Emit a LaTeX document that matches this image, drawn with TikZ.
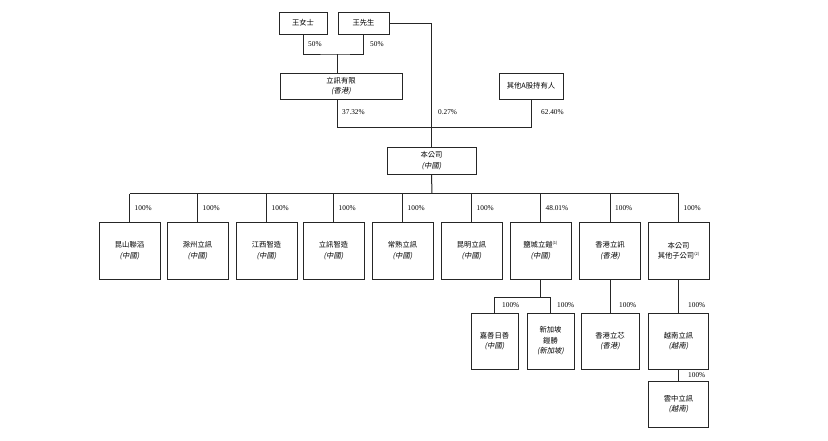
\documentclass[tikz,border=0pt]{standalone}
\usepackage{fontspec}
\setmainfont{Liberation Serif}
\newfontfamily\cjk{Noto Sans CJK TC}
\newfontfamily\cjkit{Noto Sans CJK TC}[FakeSlant=0.2]
\newcommand{\reg}[1]{{\cjkit (#1)}}
\newcommand{\nt}[1]{\raisebox{0.7ex}{\fontsize{4}{4}\selectfont(#1)}}
\begin{document}
\begin{tikzpicture}[x=1pt,y=-1pt,
  box/.style={draw=black!85, line width=1pt, fill=white, align=center, inner sep=0pt,
    font=\cjk\fontsize{7.3}{10.5}\selectfont},
  ln/.style={draw=black!85, line width=1pt},
  pct/.style={font=\fontsize{7.3}{8}\selectfont, anchor=west, inner sep=0pt}]
\useasboundingbox[fill=white] (0,0) rectangle (828,440);

% top level
\node[box, minimum width=48, minimum height=22] (ms) at (303,23) {王女士};
\node[box, minimum width=51, minimum height=22] (mr) at (363.5,23) {王先生};
\node[box, minimum width=122, minimum height=26] (lx) at (341,86) {立訊有限\\\reg{香港}};
\node[box, minimum width=64, minimum height=26] (oth) at (531,86) {其他A股持有人};
\node[box, minimum width=89, minimum height=27] (co) at (431.5,160.5) {本公司\\\reg{中國}};

\coordinate (j1) at (337,54);
\coordinate (bus1) at (432,127.5);
\coordinate (bus2) at (432,193.5);
\coordinate (bus3) at (522,297.5);

\draw[ln] (ms.south) |- (j1) -| (mr.south);
\draw[ln] (j1) -- (j1 |- lx.north);
\draw[ln] (lx.south -| j1) |- (bus1) -| (oth.south);
\draw[ln] (mr.east) -| (co.north);
\draw[ln] (co.south) -- (bus2);

\node[pct] at (308,44) {50\%};
\node[pct] at (370,44) {50\%};
\node[pct] at (342,112) {37.32\%};
\node[pct] at (438,112) {0.27\%};
\node[pct] at (541,112) {62.40\%};

% children
\foreach \n/\x/\t/\p in {
  c1/129.5/{昆山聯滔\\\reg{中國}}/100,
  c2/197.5/{滁州立訊\\\reg{中國}}/100,
  c3/266.5/{江西智造\\\reg{中國}}/100,
  c4/333.5/{立訊智造\\\reg{中國}}/100,
  c5/402.5/{常熟立訊\\\reg{中國}}/100,
  c6/471.5/{昆明立訊\\\reg{中國}}/100,
  c7/540.5/{鹽城立鎧\nt{1}\\\reg{中國}}/48.01,
  c8/610/{香港立訊\\\reg{香港}}/100,
  c9/678.5/{本公司\\其他子公司\nt{2}}/100}{
  \node[box, minimum width=61, minimum height=57] (\n) at (\x,250.5) {\t};
  \draw[ln] (\n.north) -- (\n.north |- bus2);
  \path (\n.north |- bus2) ++(5,14.5) node[pct] {\p\%};
}
\draw[ln] (c1.north |- bus2) -- (c9.north |- bus2);

% second level
\node[box, minimum width=47, minimum height=56] (g1) at (494.5,341) {嘉善日善\\\reg{中國}};
\node[box, minimum width=47, minimum height=56] (g2) at (550.5,341) {新加坡\\鎧勝\\\reg{新加坡}};
\node[box, minimum width=58, minimum height=56] (g3) at (610,341) {香港立芯\\\reg{香港}};
\node[box, minimum width=60, minimum height=56] (g4) at (678.5,341) {越南立訊\\\reg{越南}};
\node[box, minimum width=60, minimum height=46] (g5) at (678.5,404) {雲中立訊\\\reg{越南}};

\draw[ln] (c7.south) -- (c7.south |- bus3);
\draw[ln] (g1.north) |- (bus3) -| (g2.north);
\draw[ln] (c8.south) -- (g3.north);
\draw[ln] (c9.south) -- (g4.north);
\draw[ln] (g4.south) -- (g5.north);

\node[pct] at (502,305) {100\%};
\node[pct] at (557,305) {100\%};
\node[pct] at (619,305) {100\%};
\node[pct] at (688,305) {100\%};
\node[pct] at (688,375) {100\%};
\end{tikzpicture}
\end{document}
